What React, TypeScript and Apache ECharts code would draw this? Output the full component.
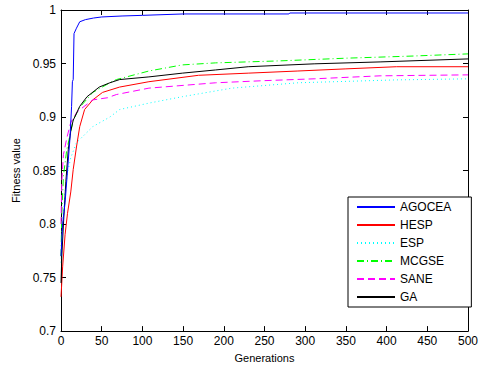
import React, { useEffect, useRef } from "react";
import * as echarts from "echarts";

const seriesNames = ["AGOCEA", "HESP", "ESP", "MCGSE", "SANE", "GA"];

const agoceaGen = [0, 2, 5, 8, 11, 13, 14, 15, 16, 19, 23, 30, 40, 50, 75, 100, 150, 280, 281, 500];
const agoceaVal = [0.77, 0.8, 0.82, 0.85, 0.88, 0.91, 0.933, 0.935, 0.978, 0.983, 0.989, 0.991, 0.9925, 0.9935, 0.9944, 0.995, 0.9963, 0.9963, 0.9972, 0.9972];

const hespGen = [0, 2, 5, 8, 12, 15, 19, 23, 29, 39, 51, 72, 108, 169, 230, 291, 350, 412, 500];
const hespVal = [0.732, 0.76, 0.79, 0.81, 0.83, 0.851, 0.872, 0.891, 0.907, 0.916, 0.923, 0.928, 0.933, 0.939, 0.941, 0.943, 0.945, 0.947, 0.947];

const espGen = [0, 1, 3, 5, 8, 12, 19, 39, 60, 72, 108, 149, 210, 291, 412, 500];
const espVal = [0.764, 0.79, 0.81, 0.83, 0.848, 0.862, 0.876, 0.891, 0.9, 0.907, 0.913, 0.919, 0.927, 0.932, 0.9347, 0.9357];

const mcgseGen = [0, 1, 3, 7, 15, 23, 39, 60, 68, 108, 149, 190, 270, 351, 433, 500];
const mcgseVal = [0.77, 0.81, 0.845, 0.869, 0.897, 0.909, 0.923, 0.932, 0.935, 0.943, 0.9487, 0.9506, 0.9525, 0.955, 0.957, 0.959];

const saneGen = [0, 1, 3, 7, 12, 20, 39, 57, 68, 108, 190, 250, 311, 392, 500];
const saneVal = [0.8, 0.84, 0.865, 0.88, 0.895, 0.905, 0.916, 0.918, 0.921, 0.927, 0.932, 0.934, 0.9357, 0.9385, 0.9394];

const gaGen = [0, 1, 3, 6, 9, 12, 15, 23, 32, 47, 60, 72, 108, 149, 190, 230, 311, 392, 500];
const gaVal = [0.745, 0.77, 0.8, 0.84, 0.87, 0.887, 0.897, 0.91, 0.919, 0.928, 0.932, 0.935, 0.9375, 0.941, 0.944, 0.947, 0.9497, 0.9515, 0.9543];

const seriesGens = [agoceaGen, hespGen, espGen, mcgseGen, saneGen, gaGen];
const seriesVals = [agoceaVal, hespVal, espVal, mcgseVal, saneVal, gaVal];
const seriesColors = ["#0000ff", "#ff0000", "#00ffff", "#00ff00", "#ff00ff", "#000000"];
const seriesDash: any[] = ["solid", "solid", [1, 3], [7, 3, 1, 3], [7, 4], "solid"];

const xTicks = [0, 50, 100, 150, 200, 250, 300, 350, 400, 450, 500];
const yTicks = [0.7, 0.75, 0.8, 0.85, 0.9, 0.95, 1];

const FONT = "'Liberation Sans', Arial, sans-serif";

export default function App() {
  const ref = useRef<HTMLDivElement>(null);
  useEffect(() => {
    if (!ref.current) return;
    const chart = echarts.init(ref.current, null, { renderer: "svg" });
    const series = seriesNames.map((name, i) => ({
      name,
      type: "line",
      symbol: "none",
      showSymbol: false,
      z: i === 0 ? 3 : 2,
      data: seriesGens[i].map((g, j) => [g, seriesVals[i][j]]),
      lineStyle: { color: seriesColors[i], width: 1, type: seriesDash[i] },
      itemStyle: { color: seriesColors[i] },
    }));
    const common = {
      type: "value",
      axisLine: { show: true, onZero: false, lineStyle: { color: "#000", width: 1 } },
      axisTick: { show: true, inside: true, length: 5, lineStyle: { color: "#000" } },
      splitLine: { show: false },
    };
    chart.setOption({
      animation: false,
      backgroundColor: "#fff",
      textStyle: { fontFamily: FONT },
      grid: { left: 61, right: 9, top: 10, bottom: 36, containLabel: false },
      legend: {
        orient: "vertical",
        left: 348,
        top: 197,
        width: 122,
        padding: [4, 20, 4, 8],
        itemWidth: 38,
        itemHeight: 12,
        itemGap: 6,
        borderColor: "#000",
        borderWidth: 1,
        backgroundColor: "#fff",
        itemStyle: { opacity: 0 },
        textStyle: { fontFamily: FONT, fontSize: 12, color: "#000" },
        data: seriesNames,
      },
      xAxis: [
        {
          ...common,
          position: "bottom",
          min: 0,
          max: 500,
          interval: 50,
          axisLabel: { color: "#000", fontSize: 12, margin: 4, fontFamily: FONT, customValues: xTicks },
          name: "Generations",
          nameLocation: "middle",
          nameGap: 18,
          nameTextStyle: { color: "#000", fontSize: 11, fontFamily: FONT },
        },
        {
          ...common,
          position: "top",
          min: 0,
          max: 500,
          interval: 50,
          axisLabel: { show: false },
        },
      ],
      yAxis: [
        {
          ...common,
          position: "left",
          min: 0.7,
          max: 1,
          interval: 0.05,
          axisLabel: {
            color: "#000",
            fontSize: 12,
            margin: 5,
            fontFamily: FONT,
            formatter: (v: number) => {
              const t = yTicks.find((y) => Math.abs(y - v) < 1e-6);
              return t === undefined ? "" : String(t);
            },
          },
          name: "Fitness value",
          nameLocation: "middle",
          nameGap: 35,
          nameTextStyle: { color: "#000", fontSize: 11, fontFamily: FONT },
        },
        {
          ...common,
          position: "right",
          min: 0.7,
          max: 1,
          interval: 0.05,
          axisLabel: { show: false },
        },
      ],
      series,
    });
    return () => chart.dispose();
  }, []);
  return <div ref={ref} style={{ width: 481, height: 368, position: "absolute", left: 0, top: 0 }} />;
}
